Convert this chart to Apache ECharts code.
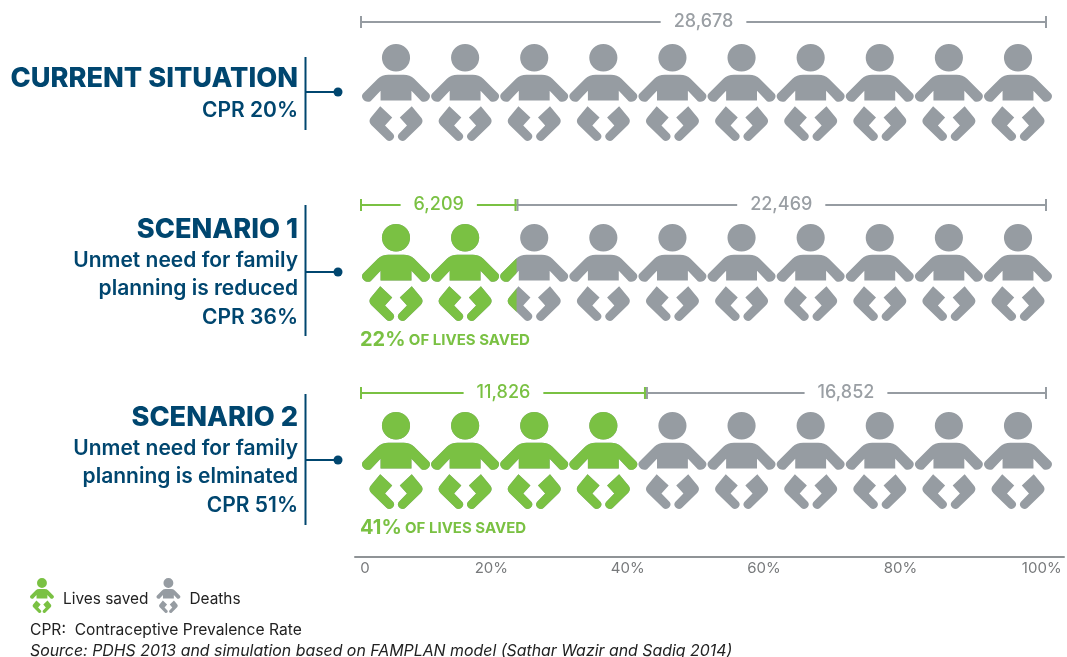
<!DOCTYPE html>
<html>
<head>
<meta charset="utf-8">
<style>html,body{margin:0;padding:0;background:#fff}#chart{width:1067px;height:657px}</style>
<script src="https://cdn.jsdelivr.net/npm/echarts@6/dist/echarts.min.js"></script>
</head>
<body>
<div id="chart"></div>
<script>
// values
const rowNames = ['Current situation', 'Scenario 1', 'Scenario 2']
const savedShare = [0, 22.4, 40]            // green part of the 10 babies, %
const deathsShare = [100, 100, 100]
const savedBracket = [null, [0, 22.7, '6,209'], [0, 41.6, '11,826']]
const deathsBracket = [[0, 100, '28,678'], [22.7, 100, '22,469'], [41.6, 100, '16,852']]
const tickLabels = { 0: '0', 20: '20%', 40: '40%', 60: '60%', 80: '80%', 100: '100%' }

const headings = ['CURRENT SITUATION', 'SCENARIO 1', 'SCENARIO 2']
const subLines = [
  ['CPR 20%'],
  ['Unmet need for family', 'planning is reduced', 'CPR 36%'],
  ['Unmet need for family', 'planning is elminated', 'CPR 51%']
]
const savedNotes = [null, '22%', '41%']

const GREEN = '#7ac143'
const GREY = '#969ca2'
const NAVY = '#00466f'
const FONT = 'Inter, sans-serif'

const BABY = 'path://M102,1A41,41 0 1 1 102,83A41,41 0 1 1 102,1Z' +
  'M80,93L124,93Q143,93 155,105L198,149C208,160 192,180 176,172L147,141L147,170L57,170L57,141L28,172C12,180 -4,160 6,149L49,105Q61,93 80,93Z' +
  'M56,187L91,221L70,245L94,270C103,281 86,298 75,288L30,243C23,236 23,226 30,219Z' +
  'M148,187L113,221L134,245L110,270C101,281 118,298 129,288L174,243C181,236 181,226 174,219Z'

// layout per row
const iconTop = [44, 224, 412]
const bracketY = [22, 205, 393]
const blockTop = [57, 205, 394]
const blockBottom = [130, 336, 525]
const dotY = [92, 272, 460]
const headingY = [79, 230, 418]
const subY = [[111], [261, 289, 318], [449, 477, 506]]
const noteY = [null, 340, 528]

const grid = [], xAxis = [], yAxis = [], series = [], graphic = []

function addAxes(left, width, top, height, name) {
  grid.push({ left, width, top, height })
  const idx = grid.length - 1
  xAxis.push({ gridIndex: idx, type: 'value', min: 0, max: 100, show: false })
  yAxis.push({ gridIndex: idx, type: 'category', data: [name], show: false })
  return idx
}

function bracketSeries(idx, seg, color) {
  return {
    type: 'custom',
    xAxisIndex: idx,
    yAxisIndex: idx,
    silent: true,
    clip: false,
    z: color === GREEN ? 4 : 3,
    encode: { x: [0, 1], y: 3 },
    data: [[seg[0], seg[1], seg[2], 0]],
    renderItem(params, api) {
      const a = api.coord([api.value(0), 0])
      const b = api.coord([api.value(1), 0])
      const lineStyle = { stroke: color, lineWidth: 2 }
      const tick = x => ({ type: 'line', shape: { x1: x, y1: a[1] - 6, x2: x, y2: a[1] + 6 }, style: lineStyle })
      return {
        type: 'group',
        children: [
          { type: 'line', shape: { x1: a[0], y1: a[1], x2: b[0], y2: a[1] }, style: lineStyle },
          tick(a[0] + (color === GREY && a[0] > 362 ? 1 : 0)),
          tick(b[0] - (color === GREEN ? 1 : 0)),
          {
            type: 'text',
            style: {
              x: (a[0] + b[0]) / 2, y: a[1], text: seg[2], align: 'center', verticalAlign: 'middle',
              fill: color === GREY ? '#9a9fa4' : GREEN, font: '500 18px ' + FONT,
              backgroundColor: '#fff', padding: [1, 13]
            }
          }
        ]
      }
    }
  }
}

rowNames.forEach((name, i) => {
  const icons = addAxes(362, 690, iconTop[i], 97, name)
  const common = {
    type: 'pictorialBar', xAxisIndex: icons, yAxisIndex: icons, symbol: BABY,
    symbolRepeat: 10, symbolSize: [68, 97], symbolBoundingData: 100, silent: true, animation: false
  }
  series.push({ ...common, name: 'Deaths', data: [deathsShare[i]], itemStyle: { color: GREY }, z: 2 })
  if (savedShare[i] > 0) {
    series.push({ ...common, name: 'Lives saved', data: [savedShare[i]], symbolClip: true, itemStyle: { color: GREEN }, z: 3 })
  }

  const br = addAxes(361, 685, bracketY[i] - 10, 20, name)
  series.push(bracketSeries(br, deathsBracket[i], GREY))
  if (savedBracket[i]) series.push(bracketSeries(br, savedBracket[i], GREEN))

  // left text block
  graphic.push({ type: 'text', style: { x: 298, y: headingY[i], text: headings[i], align: 'right', verticalAlign: 'middle', fill: NAVY, font: '800 27.2px ' + FONT } })
  subLines[i].forEach((t, j) => {
    graphic.push({ type: 'text', style: { x: 298, y: subY[i][j], text: t, align: 'right', verticalAlign: 'middle', fill: NAVY, font: '600 21px ' + FONT } })
  })
  graphic.push({ type: 'line', shape: { x1: 305.5, y1: blockTop[i], x2: 305.5, y2: blockBottom[i] }, style: { stroke: NAVY, lineWidth: 2 } })
  graphic.push({ type: 'line', shape: { x1: 305, y1: dotY[i], x2: 338, y2: dotY[i] }, style: { stroke: NAVY, lineWidth: 2 } })
  graphic.push({ type: 'circle', shape: { cx: 338, cy: dotY[i], r: 4.5 }, style: { fill: NAVY } })
  if (savedNotes[i]) {
    graphic.push({
      type: 'text',
      style: {
        x: 360, y: noteY[i], verticalAlign: 'middle',
        text: '{a|' + savedNotes[i] + '} {b|OF LIVES SAVED}',
        rich: {
          a: { fill: GREEN, font: 'bold 20px ' + FONT },
          b: { fill: GREEN, font: 'bold 15px ' + FONT }
        }
      }
    })
  }
})

// bottom percentage axis
grid.push({ left: 355, width: 712, top: 556, height: 1 })
const axisIdx = grid.length - 1
xAxis.push({
  gridIndex: axisIdx, type: 'value', min: 0, max: 104, interval: 20, position: 'bottom',
  axisLine: { show: true, onZero: false, lineStyle: { color: '#8f9396', width: 2 } },
  axisTick: { show: false }, splitLine: { show: false },
  axisLabel: {
    margin: 4, color: '#77797b', fontFamily: FONT, fontSize: 15,
    formatter: v => {
      if (v === 0) return '{zero|0}'
      if (v === 100) return '{full|100%}'
      return tickLabels[v] || ''
    },
    rich: {
      zero: { padding: [0, 0, 0, 20], color: '#77797b', fontFamily: FONT, fontSize: 15 },
      full: { padding: [0, 0, 0, 10], color: '#77797b', fontFamily: FONT, fontSize: 15 }
    }
  }
})
yAxis.push({ gridIndex: axisIdx, type: 'value', show: false })

// footnotes
graphic.push({ type: 'text', style: { x: 30, y: 630, text: 'CPR:  Contraceptive Prevalence Rate', verticalAlign: 'middle', fill: '#222', font: '15.6px ' + FONT } })
graphic.push({ type: 'text', style: { x: 30, y: 651, text: 'Source: PDHS 2013 and simulation based on FAMPLAN model (Sathar Wazir and Sadiq 2014)', verticalAlign: 'middle', fill: '#222', font: 'italic 15.9px ' + FONT } })

const chart = echarts.init(document.getElementById('chart'))
chart.setOption({
  animation: false,
  backgroundColor: '#fff',
  textStyle: { fontFamily: FONT },
  legend: {
    left: 26, top: 577, padding: [1, 4], itemGap: 8, itemWidth: 26, itemHeight: 35, selectedMode: false,
    data: [
      { name: 'Lives saved', icon: BABY, itemStyle: { color: GREEN } },
      { name: 'Deaths', icon: BABY, itemStyle: { color: GREY } }
    ],
    formatter: name => '{t|' + name + '}',
    textStyle: {
      rich: { t: { fontFamily: FONT, fontSize: 15.4, color: '#222', padding: [8, 0, 0, 3] } }
    }
  },
  grid, xAxis, yAxis, series,
  graphic: { elements: graphic }
})
window.addEventListener('resize', () => chart.resize())
</script>
</body>
</html>
